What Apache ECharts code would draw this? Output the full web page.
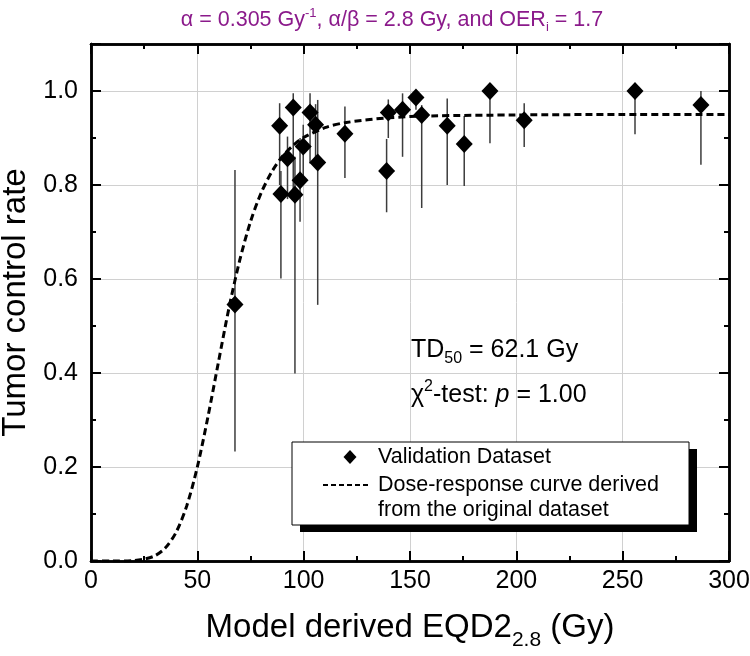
<!DOCTYPE html>
<html>
<head>
<meta charset="utf-8">
<script src="https://cdn.jsdelivr.net/npm/echarts@6/dist/echarts.min.js"></script>
<style>html,body{margin:0;padding:0;background:#fff}#c{width:750px;height:656px}</style>
</head>
<body>
<div id="c"></div>
<script>
// ---- data ----
const doseX   = [67.7, 88.7, 89.3, 92.4, 95.1, 95.9, 98.3, 99.8, 103.0, 105.6, 106.6, 119.4, 139.0, 139.8, 146.5, 152.8, 155.5, 167.5, 175.5, 187.6, 203.7, 255.8, 286.8];
const tcrY    = [0.546, 0.926, 0.781, 0.857, 0.965, 0.779, 0.810, 0.882, 0.954, 0.928, 0.848, 0.909, 0.830, 0.954, 0.960, 0.986, 0.949, 0.926, 0.887, 1.000, 0.938, 1.000, 0.970];
const errLow  = [0.233, 0.800, 0.601, 0.770, 0.780, 0.399, 0.722, 0.800, 0.846, 0.850, 0.545, 0.815, 0.742, 0.900, 0.860, 0.960, 0.751, 0.800, 0.798, 0.889, 0.881, 0.908, 0.843];
const errHigh = [0.832, 0.974, 0.830, 0.903, 0.995, 0.860, 0.900, 0.928, 0.995, 0.972, 0.981, 0.967, 0.898, 0.982, 0.995, 1.000, 0.970, 0.984, 0.947, 1.000, 0.974, 1.000, 1.000];

const curveX = [0, 10, 20, 25, 30, 35, 40, 45, 50, 55, 60, 65, 70, 75, 80, 85, 90, 95, 100, 110, 120, 140, 160, 200, 250, 300];
const curveY = [0, 0, 0.001, 0.004, 0.011, 0.028, 0.061, 0.117, 0.200, 0.307, 0.425, 0.541, 0.641, 0.722, 0.783, 0.828, 0.861, 0.884, 0.901, 0.922, 0.933, 0.943, 0.947, 0.949, 0.950, 0.950];

const xTicks = [0, 50, 100, 150, 200, 250, 300];
const yTicks = [0.0, 0.2, 0.4, 0.6, 0.8, 1.0];

const titleParts = ['α = 0.305 Gy', '-1', ', α/β = 2.8 Gy, and OER', 'i', ' = 1.7'];
const legendNames = ['Validation Dataset', 'Dose-response curve derived', 'from the original dataset'];

// ---- chart ----
const SANS = '"Liberation Sans", Arial, sans-serif';
const chart = echarts.init(document.getElementById('c'), null, {renderer: 'canvas'});

const X_MIN = 0, X_MAX = 300, Y_MIN = 0, Y_MAX = 1.1;

function xAxisDef(pos, interval, len, labels, split, name) {
  return {
    type: 'value', position: pos, min: X_MIN, max: X_MAX, interval: interval, gridIndex: 0,
    axisLine: {show: true, onZero: false, lineStyle: {color: '#000', width: 2.5}},
    axisTick: {show: true, inside: true, length: len, lineStyle: {color: '#000', width: 2}},
    axisLabel: labels ? {show: true, margin: 8, color: '#000', fontSize: 25, fontFamily: SANS,
      formatter: v => xTicks.indexOf(v) >= 0 ? String(v) : ''} : {show: false},
    splitLine: {show: split, lineStyle: {color: '#d0d0d0', width: 1}},
    name: name || '', nameLocation: 'middle', nameGap: 43,
    nameTextStyle: name ? {
      fontFamily: SANS, fontSize: 33, color: '#000',
      rich: {
        a: {fontFamily: SANS, fontSize: 33, color: '#000'},
        s: {fontFamily: SANS, fontSize: 21, color: '#000', padding: [26, 0, 0, 0]}
      }
    } : {}
  };
}
function yAxisDef(pos, interval, len, labels, split, name) {
  return {
    type: 'value', position: pos, min: Y_MIN, max: Y_MAX, interval: interval, gridIndex: 0,
    axisLine: {show: true, onZero: false, lineStyle: {color: '#000', width: 2.5}},
    axisTick: {show: true, inside: true, length: len, lineStyle: {color: '#000', width: 2}},
    axisLabel: labels ? {show: true, margin: 13, color: '#000', fontSize: 25, fontFamily: SANS,
      formatter: v => yTicks.some(t => Math.abs(t - v) < 1e-6) ? v.toFixed(1) : ''} : {show: false},
    splitLine: {show: split, lineStyle: {color: '#d0d0d0', width: 1}},
    name: name || '', nameLocation: 'middle', nameGap: 50, nameRotate: 90,
    nameTextStyle: {fontFamily: SANS, fontSize: 33, color: '#000'}
  };
}

const option = {
  backgroundColor: '#fff',
  animation: false,
  grid: {left: 91, right: 21, top: 44, bottom: 95, containLabel: false, outerBoundsMode: 'none'},
  xAxis: [
    xAxisDef('bottom', 50, 10, true, true, '{a|Model derived EQD2}{s|2.8}{a| (Gy)}'),
    xAxisDef('bottom', 25, 5, false, false),
    xAxisDef('top', 50, 10, false, false),
    xAxisDef('top', 25, 5, false, false)
  ],
  yAxis: [
    yAxisDef('left', 0.2, 10, true, true, 'Tumor control rate'),
    yAxisDef('left', 0.1, 5, false, false),
    yAxisDef('right', 0.2, 10, false, false),
    yAxisDef('right', 0.1, 5, false, false)
  ],
  series: [
    {
      name: 'Error bars', type: 'custom', xAxisIndex: 0, yAxisIndex: 0, z: 2,
      data: doseX.map((x, i) => [x, errLow[i], errHigh[i]]),
      encode: {x: 0, y: [1, 2]},
      renderItem: function (params, api) {
        const p1 = api.coord([api.value(0), api.value(1)]);
        const p2 = api.coord([api.value(0), api.value(2)]);
        return {type: 'line', shape: {x1: p1[0], y1: p1[1], x2: p2[0], y2: p2[1]},
          style: {stroke: '#3c3c3c', lineWidth: 1.5}};
      },
      silent: true
    },
    {
      name: legendNames[1] + ' ' + legendNames[2], type: 'line', xAxisIndex: 0, yAxisIndex: 0, z: 3,
      data: curveX.map((x, i) => [x, curveY[i]]),
      smooth: 0.3, showSymbol: false, symbol: 'none',
      lineStyle: {color: '#000', width: 3, type: [7, 4]}
    },
    {
      name: legendNames[0], type: 'scatter', xAxisIndex: 0, yAxisIndex: 0, z: 4,
      data: doseX.map((x, i) => [x, tcrY[i]]),
      symbol: 'diamond', symbolSize: [17, 18],
      itemStyle: {color: '#000', opacity: 1}
    }
  ],
  graphic: [
    { // title
      type: 'text', x: 392, y: 20, z: 10,
      style: {
        text: '{t|' + titleParts[0] + '}{sup|' + titleParts[1] + '}{t|' + titleParts[2] + '}{sub|' + titleParts[3] + '}{t|' + titleParts[4] + '}',
        align: 'center', verticalAlign: 'middle',
        rich: {
          t: {fontFamily: SANS, fontSize: 21.5, fill: '#8b1a8b'},
          sup: {fontFamily: SANS, fontSize: 13, fill: '#8b1a8b', padding: [0, 0, 14, 0]},
          sub: {fontFamily: SANS, fontSize: 13, fill: '#8b1a8b', padding: [14, 0, 0, 0]}
        }
      }
    },
    { // TD50
      type: 'text', x: 411, y: 350, z: 10,
      style: {
        text: '{t|TD}{s|50}{t| = 62.1 Gy}',
        verticalAlign: 'middle',
        rich: {
          t: {fontFamily: SANS, fontSize: 25, fill: '#000'},
          s: {fontFamily: SANS, fontSize: 16, fill: '#000', padding: [18, 0, 0, 0]}
        }
      }
    },
    { // chi2
      type: 'text', x: 411, y: 395, z: 10,
      style: {
        text: '{t|χ}{s|2}{t|-test: }{i|p}{t| = 1.00}',
        verticalAlign: 'middle',
        rich: {
          t: {fontFamily: SANS, fontSize: 25, fill: '#000'},
          i: {fontFamily: SANS, fontSize: 25, fontStyle: 'italic', fill: '#000'},
          s: {fontFamily: SANS, fontSize: 16, fill: '#000', padding: [0, 0, 16, 0]}
        }
      }
    },
    // legend box with hard shadow
    {type: 'rect', shape: {x: 300, y: 449, width: 397, height: 83}, style: {fill: '#000'}, z: 10},
    {type: 'rect', shape: {x: 292, y: 442, width: 397, height: 83}, style: {fill: '#fff', stroke: '#000', lineWidth: 1}, z: 11},
    {type: 'polygon', shape: {points: [[350, 450], [356.5, 457], [350, 464], [343.5, 457]]}, style: {fill: '#000'}, z: 12},
    {type: 'line', shape: {x1: 323, y1: 485, x2: 368, y2: 485}, style: {stroke: '#000', lineWidth: 2, lineDash: [5, 3]}, z: 12},
    {type: 'text', x: 378, y: 457, z: 12, style: {text: legendNames[0], fontFamily: SANS, fontSize: 21.5, fill: '#000', verticalAlign: 'middle'}},
    {type: 'text', x: 378, y: 485, z: 12, style: {text: legendNames[1], fontFamily: SANS, fontSize: 21.5, fill: '#000', verticalAlign: 'middle'}},
    {type: 'text', x: 378, y: 510, z: 12, style: {text: legendNames[2], fontFamily: SANS, fontSize: 21.5, fill: '#000', verticalAlign: 'middle'}}
  ]
};
chart.setOption(option);
</script>
</body>
</html>
